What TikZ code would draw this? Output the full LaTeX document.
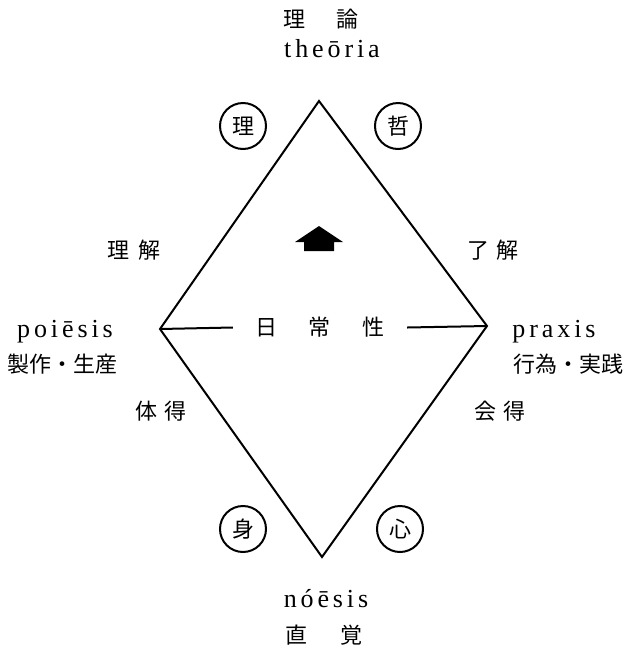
\documentclass[tikz,border=0pt]{standalone}
\usepackage{fontspec}
\newfontfamily\cjk{Noto Sans CJK JP}
\newfontfamily\latin{Liberation Serif}[LetterSpace=15]
\usetikzlibrary{positioning}

\begin{document}
\begin{tikzpicture}[
  x=1pt, y=-1pt,
  word/.style={font=\cjk\fontsize{22}{22}\selectfont, inner sep=0pt},
  term/.style={font=\latin\fontsize{26}{26}\selectfont, inner sep=0pt, anchor=base},
  seal/.style={circle, draw, line width=2pt, minimum size=46pt, inner sep=0pt, font=\cjk\fontsize{22}{22}\selectfont},
  edge/.style={line width=2pt, line join=miter},
]
  \useasboundingbox (0,0) rectangle (631,649);

  % diamond
  \coordinate (top) at (319,101);
  \coordinate (right) at (487,326);
  \coordinate (bottom) at (322,557);
  \coordinate (left) at (160,329);
  \draw[edge] (top) -- (right) -- (bottom) -- (left) -- cycle;

  % everyday axis
  \node[word, inner xsep=22pt] (everyday) at (320,327.5) {日\hspace{32pt}常\hspace{32pt}性};
  \draw[edge] (left) -- (everyday.west);
  \draw[edge] (everyday.east) -- (right);

  % upward arrow
  \fill (319,226) -- (343,242) -- (334,242) -- (334,251) -- (304,251) -- (304,242) -- (295,242) -- cycle;

  % circled marks
  \node[seal] (ri) at (243,126) {理};
  \node[seal] (tetsu) at (398,126) {哲};
  \node[seal] (mi) at (243,529) {身};
  \node[seal] (kokoro) at (400,529) {心};

  % top and bottom
  \node[word] (riron) at (321,19) {理\hspace{31pt}論};
  \node[term] (theoria) at (332,57) {theōria};
  \node[term] (noesis) at (326,607) {nóēsis};
  \node[word] (chokkaku) at (324,635) {直\hspace{34pt}覚};

  % left side
  \node[word] (rikai) at (134,250) {理\hspace{9pt}解};
  \node[term] (poiesis) at (65,337) {poiēsis};
  \node[word] (seisaku) at (63,364) {製作・生産};
  \node[word] (taitoku) at (161,411) {体\hspace{7pt}得};

  % right side
  \node[word] (ryokai) at (493,250) {了\hspace{7pt}解};
  \node[term] (praxis) at (554,337) {praxis};
  \node[word] (koui) at (568,364) {行為・実践};
  \node[word] (etoku) at (500,411) {会\hspace{7pt}得};
\end{tikzpicture}
\end{document}
